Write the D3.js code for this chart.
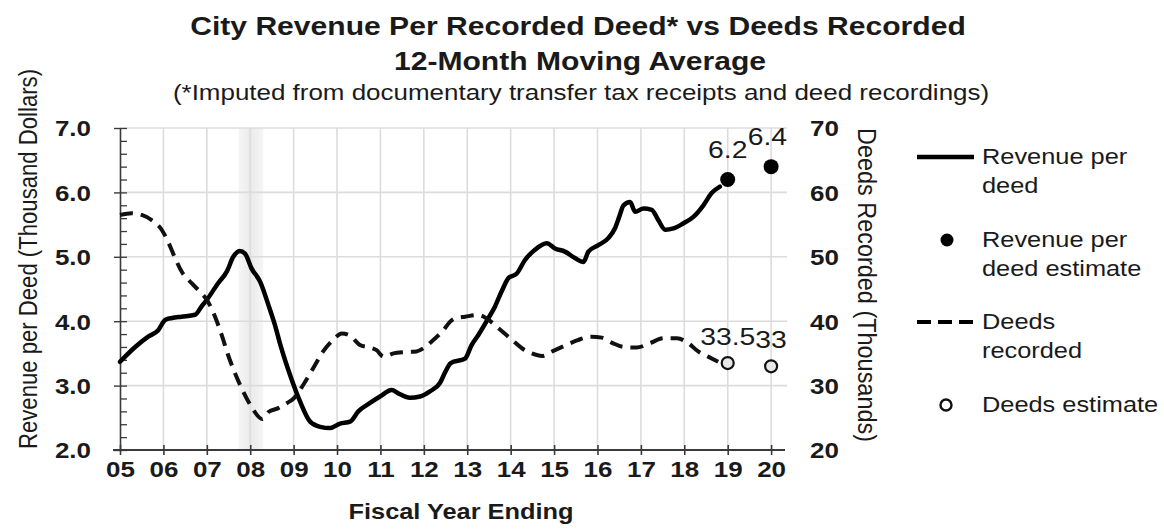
<!DOCTYPE html>
<html>
<head>
<meta charset="utf-8">
<script src="https://cdn.jsdelivr.net/npm/d3@7"></script>
<style>
  body { margin: 0; background: #fff; }
  text { font-family: "Liberation Sans", Arial, sans-serif; fill: #1a1a1a; }
</style>
</head>
<body>
<svg id="chart" width="1164" height="529"></svg>
<script>
// Revenue per recorded deed, 12-month moving average (thousand dollars)
const revYears = [2005.00, 2005.35, 2005.65, 2005.88, 2006.04, 2006.20, 2006.42, 2006.73, 2006.88, 2007.03,
  2007.26, 2007.46, 2007.61, 2007.76, 2007.88, 2008.03, 2008.23, 2008.42, 2008.57, 2008.70,
  2008.92, 2009.15, 2009.38, 2009.61, 2009.84, 2010.07, 2010.30, 2010.49, 2010.76, 2010.99,
  2011.26, 2011.41, 2011.68, 2011.91, 2012.14, 2012.37, 2012.50, 2012.62, 2012.95, 2013.10,
  2013.26, 2013.49, 2013.64, 2013.79, 2013.95, 2014.14, 2014.33, 2014.56, 2014.83, 2015.02,
  2015.25, 2015.48, 2015.68, 2015.79, 2016.02, 2016.25, 2016.40, 2016.50, 2016.60, 2016.75,
  2016.87, 2017.06, 2017.25, 2017.40, 2017.56, 2017.75, 2017.98, 2018.21, 2018.44, 2018.63, 2018.82];
const revValues = [3.37, 3.60, 3.76, 3.86, 4.02, 4.05, 4.07, 4.10, 4.23, 4.36,
  4.59, 4.77, 5.00, 5.09, 5.05, 4.82, 4.61, 4.25, 3.94, 3.62,
  3.16, 2.75, 2.44, 2.36, 2.34, 2.41, 2.44, 2.60, 2.73, 2.83,
  2.93, 2.88, 2.81, 2.83, 2.91, 3.04, 3.22, 3.35, 3.42, 3.63,
  3.79, 4.05, 4.23, 4.46, 4.67, 4.74, 4.95, 5.11, 5.21, 5.13,
  5.08, 4.98, 4.92, 5.08, 5.18, 5.29, 5.44, 5.62, 5.80, 5.85,
  5.70, 5.75, 5.73, 5.57, 5.42, 5.44, 5.52, 5.62, 5.80, 5.99, 6.09];

// Deeds recorded, 12-month moving average (thousands)
const deedYears = [2005.00, 2005.27, 2005.50, 2005.73, 2005.96, 2006.11, 2006.27, 2006.42, 2006.65, 2006.84,
  2007.03, 2007.19, 2007.34, 2007.49, 2007.65, 2007.84, 2008.03, 2008.28, 2008.42, 2008.65,
  2008.85, 2009.00, 2009.22, 2009.45, 2009.68, 2009.91, 2010.11, 2010.30, 2010.53, 2010.76,
  2010.91, 2011.07, 2011.30, 2011.53, 2011.83, 2011.99, 2012.22, 2012.45, 2012.60, 2012.72,
  2012.95, 2013.26, 2013.49, 2013.72, 2014.03, 2014.26, 2014.49, 2014.72, 2014.95, 2015.25,
  2015.56, 2015.86, 2016.10, 2016.35, 2016.60, 2016.90, 2017.21, 2017.52, 2017.83, 2018.09,
  2018.32, 2018.55, 2018.78];
const deedValues = [56.5, 56.75, 56.5, 55.7, 54.2, 52.3, 49.8, 47.7, 45.9, 44.6,
  43.0, 40.7, 37.9, 34.75, 31.9, 29.05, 26.7, 24.8, 25.9, 26.5,
  27.3, 28.0, 30.1, 32.7, 35.3, 37.1, 38.1, 37.75, 36.3, 35.9,
  35.5, 34.5, 35.0, 35.2, 35.3, 35.8, 37.1, 38.6, 39.9, 40.45,
  40.7, 40.96, 40.2, 38.9, 37.1, 35.8, 35.0, 34.6, 35.3, 36.2,
  37.1, 37.6, 37.45, 36.6, 36.0, 35.9, 36.6, 37.35, 37.35, 36.6,
  35.3, 34.5, 33.7];

// Fiscal-year estimates
const estimateYears = [2019, 2020];
const revEstimates = [6.2, 6.4];
const deedEstimates = [33.5, 33];

// Shaded period
const bandYears = [2007.73, 2008.30];

// Axis ticks
const yearTicks = d3.range(2005, 2021);
const yearLabels = ["05","06","07","08","09","10","11","12","13","14","15","16","17","18","19","20"];
const leftTicks = [2, 3, 4, 5, 6, 7];
const leftMinorTicks = d3.range(2, 7.001, 0.2).map(v => +v.toFixed(1));
const rightTicks = [20, 30, 40, 50, 60, 70];

const legendItems = [
  { kind: "line", lines: ["Revenue per", "deed"] },
  { kind: "dot", lines: ["Revenue per", "deed estimate"] },
  { kind: "dash", lines: ["Deeds", "recorded"] },
  { kind: "ring", lines: ["Deeds estimate"] }
];

// ---- layout ----
const SX = 1.18;               // horizontal glyph stretch used for all text
const plot = { left: 120, right: 785, top: 128, bottom: 450 };
const svg = d3.select("#chart");

const x = d3.scaleLinear().domain([2005, 2020.32]).range([plot.left, plot.right]);
const yL = d3.scaleLinear().domain([2, 7]).range([plot.bottom, plot.top]);
const yR = d3.scaleLinear().domain([20, 70]).range([plot.bottom, plot.top]);

function txt(parent, px, py, s, o) {
  const t = parent.append("text")
    .attr("transform", `translate(${px},${py}) scale(${SX},1)` + (o.rotate ? ` rotate(${o.rotate})` : ""))
    .attr("text-anchor", o.anchor || "start")
    .attr("font-size", o.size)
    .attr("font-weight", o.bold ? "bold" : "normal")
    .text(s);
  if (o.length) t.attr("textLength", o.length).attr("lengthAdjust", "spacingAndGlyphs");
  return t;
}

// shaded band
const defs = svg.append("defs");
const grad = defs.append("linearGradient").attr("id", "bandGrad").attr("x1", 0).attr("x2", 1);
grad.append("stop").attr("offset", "0%").attr("stop-color", "#f6f6f6");
grad.append("stop").attr("offset", "50%").attr("stop-color", "#eaeaea");
grad.append("stop").attr("offset", "100%").attr("stop-color", "#f6f6f6");
svg.append("rect")
  .attr("x", x(bandYears[0])).attr("y", plot.top)
  .attr("width", x(bandYears[1]) - x(bandYears[0]))
  .attr("height", plot.bottom - plot.top)
  .attr("fill", "url(#bandGrad)");

// gridlines
const grid = svg.append("g").attr("stroke", "#dcdcdc").attr("stroke-width", 1.6);
grid.selectAll(".hg").data(leftTicks.filter(v => v > 2)).join("line")
  .attr("x1", plot.left).attr("x2", plot.right + 2)
  .attr("y1", d => yL(d)).attr("y2", d => yL(d));
grid.selectAll(".vg").data(yearTicks.filter(v => v > 2005)).join("line")
  .attr("x1", d => x(d)).attr("x2", d => x(d))
  .attr("y1", plot.top).attr("y2", plot.bottom);

// x axis
const xAxis = svg.append("g").attr("transform", `translate(0,${plot.bottom})`)
  .call(d3.axisBottom(x).tickValues(yearTicks).tickSizeInner(5).tickSizeOuter(0)
    .tickFormat((d, i) => yearLabels[i]));
xAxis.select(".domain").attr("stroke", "#3a3a3a").attr("stroke-width", 2.2)
  .attr("d", `M${plot.left - 7},0H${plot.right}`);
xAxis.selectAll(".tick line").attr("stroke", "#3a3a3a").attr("stroke-width", 1.6).attr("y1", -5).attr("y2", 5);
xAxis.selectAll(".tick text")
  .attr("y", null).attr("dy", null)
  .attr("transform", `translate(0,27) scale(${SX},1)`)
  .attr("font-size", 22).attr("font-weight", "bold").attr("fill", "#1a1a1a")
  .style("font-family", '"Liberation Sans", Arial, sans-serif');

// left axis: major ticks crossing, minor ticks inside
const lAxis = svg.append("g").attr("transform", `translate(${plot.left},0)`)
  .call(d3.axisLeft(yL).tickValues(leftTicks).tickSizeInner(6).tickSizeOuter(0).tickFormat(d3.format(".1f")));
lAxis.select(".domain").attr("stroke", "#3a3a3a").attr("stroke-width", 1.6);
lAxis.selectAll(".tick line").attr("stroke", "#3a3a3a").attr("stroke-width", 1.4);
lAxis.selectAll(".tick text")
  .attr("x", null).attr("dy", "0.36em")
  .attr("transform", `translate(-29,0) scale(${SX},1)`)
  .attr("font-size", 22).attr("font-weight", "bold").attr("fill", "#1a1a1a")
  .style("font-family", '"Liberation Sans", Arial, sans-serif');
const lMinor = svg.append("g").attr("transform", `translate(${plot.left},0)`)
  .call(d3.axisRight(yL).tickValues(leftMinorTicks).tickSizeInner(7).tickSizeOuter(0).tickFormat(""));
lMinor.select(".domain").remove();
lMinor.selectAll(".tick line").attr("stroke", "#3a3a3a").attr("stroke-width", 1.3);

// right axis: labels only
const rAxis = svg.append("g").attr("transform", `translate(${plot.right},0)`)
  .call(d3.axisRight(yR).tickValues(rightTicks).tickSize(0).tickFormat(d3.format("d")));
rAxis.select(".domain").remove();
rAxis.selectAll(".tick text")
  .attr("x", null).attr("dy", "0.36em")
  .attr("transform", `translate(25,0) scale(${SX},1)`)
  .attr("font-size", 22).attr("font-weight", "bold").attr("fill", "#1a1a1a")
  .style("font-family", '"Liberation Sans", Arial, sans-serif');

// series
const revLine = d3.line().x(i => x(revYears[i])).y(i => yL(revValues[i])).curve(d3.curveMonotoneX);
svg.append("path").attr("d", revLine(d3.range(revYears.length)))
  .attr("fill", "none").attr("stroke", "#000").attr("stroke-width", 4.5)
  .attr("stroke-linejoin", "round").attr("stroke-linecap", "round");

const deedLine = d3.line().x(i => x(deedYears[i])).y(i => yR(deedValues[i])).curve(d3.curveMonotoneX);
svg.append("path").attr("d", deedLine(d3.range(deedYears.length)))
  .attr("fill", "none").attr("stroke", "#111").attr("stroke-width", 4)
  .attr("stroke-dasharray", "13,8");

// estimate markers and labels
svg.selectAll(".revEst").data(estimateYears).join("circle")
  .attr("cx", d => x(d)).attr("cy", (d, i) => yL(revEstimates[i])).attr("r", 7.5)
  .attr("fill", "#000");
svg.selectAll(".deedEst").data(estimateYears).join("circle")
  .attr("cx", d => x(d)).attr("cy", (d, i) => yR(deedEstimates[i])).attr("r", 6)
  .attr("fill", "#e8e8e8").attr("stroke", "#111").attr("stroke-width", 2.2);

function valueLabel(cx, cy, s) {
  const t = txt(svg, cx, cy, s, { anchor: "middle", size: 24 });
  const half = t.node().getComputedTextLength() * SX / 2;
  const px = Math.min(cx, plot.right + 2 - half);
  t.attr("transform", `translate(${px},${cy}) scale(${SX},1)`);
}
estimateYears.forEach((yr, i) => {
  valueLabel(x(yr), yL(revEstimates[i]) - 22, String(revEstimates[i]));
  valueLabel(x(yr), yR(deedEstimates[i]) - 18.5, String(deedEstimates[i]));
});

// titles
txt(svg, 578, 35, "City Revenue Per Recorded Deed* vs Deeds Recorded", { anchor: "middle", size: 25.5, bold: true });
txt(svg, 580, 70, "12-Month Moving Average", { anchor: "middle", size: 25.5, bold: true });
txt(svg, 581, 100, "(*Imputed from documentary transfer tax receipts and deed recordings)", { anchor: "middle", size: 22 });
txt(svg, 461, 519, "Fiscal Year Ending", { anchor: "middle", size: 21.5, bold: true });
txt(svg, 37, 259, "Revenue per Deed (Thousand Dollars)", { anchor: "middle", size: 22, rotate: -90, length: 380 });
txt(svg, 858, 285, "Deeds Recorded (Thousands)", { anchor: "middle", size: 22, rotate: 90, length: 314 });

// legend
const legendY = [157, 240, 322, 405];
const lg = svg.append("g");
legendItems.forEach((item, i) => {
  const cy = legendY[i];
  if (item.kind === "line" || item.kind === "dash") {
    lg.append("line").attr("x1", 917).attr("x2", 974).attr("y1", cy).attr("y2", cy)
      .attr("stroke", "#000").attr("stroke-width", item.kind === "line" ? 4.5 : 4)
      .attr("stroke-dasharray", item.kind === "dash" ? "14,7" : null);
  } else if (item.kind === "dot") {
    lg.append("circle").attr("cx", 947).attr("cy", cy).attr("r", 6.5).attr("fill", "#000");
  } else {
    lg.append("circle").attr("cx", 946).attr("cy", cy).attr("r", 5.5)
      .attr("fill", "#fff").attr("stroke", "#111").attr("stroke-width", 2.4);
  }
  item.lines.forEach((s, j) => {
    txt(lg, 982, cy + 7 + j * 29, s, { size: 21.5 });
  });
});
</script>
</body>
</html>
